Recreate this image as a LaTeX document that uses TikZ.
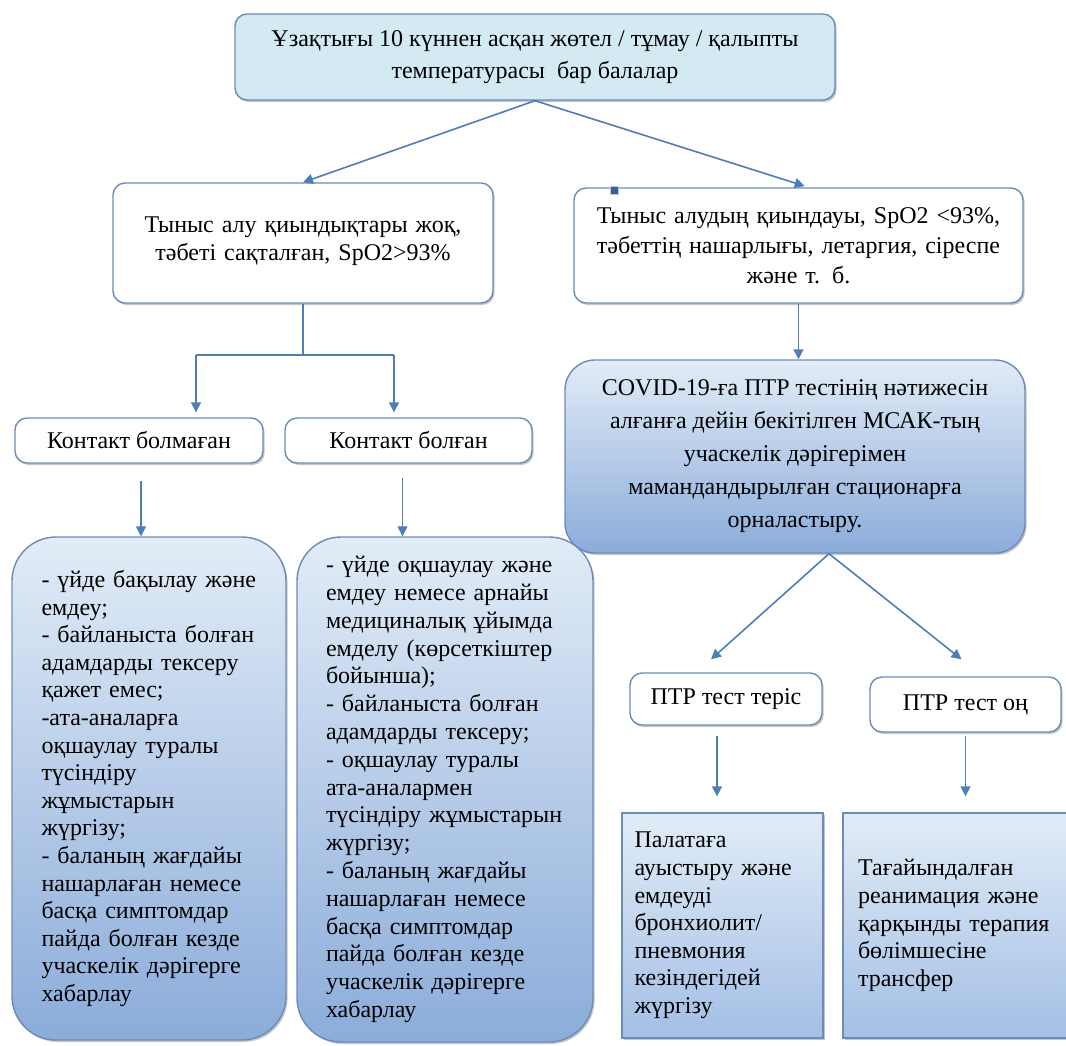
\documentclass[tikz,border=0pt]{standalone}
\usepackage{fontspec}
\setmainfont{Liberation Serif}
\usetikzlibrary{shapes,arrows.meta,shadows}
\definecolor{linecol}{HTML}{4F7DB6}
\definecolor{edgecol}{HTML}{6A8CB8}
\definecolor{topfill}{HTML}{D3EAF2}
\definecolor{gradtop}{HTML}{E2ECF7}
\definecolor{gradbot}{HTML}{8BACDA}
\definecolor{gradbotb}{HTML}{A3BFE5}
\definecolor{markcol}{HTML}{3F5F93}
\newcommand{\jl}[1]{\makebox[\linewidth][s]{#1}}
\tikzset{
	box/.style={draw=edgecol, line width=0.7pt, rounded corners=6pt, fill=white, inner sep=0pt, align=center, font=\fontsize{12}{14}\selectfont, drop shadow={shadow xshift=0.8pt, shadow yshift=-1pt, opacity=0.45}},
	bluebox/.style={box, top color=gradtop, bottom color=gradbot},
	link/.style={draw=linecol, line width=0.8pt},
	arr/.style={link, -{Triangle[length=5pt,width=5pt]}}
}
\begin{document}
\begin{tikzpicture}[x=0.5pt, y=-0.5pt]
	\clip (0,0) rectangle (1066,1045);
	\node[box, fill=topfill, minimum width=300pt, minimum height=43pt, font=\fontsize{12}{16}\selectfont] (top) at (535,57) {Ұзақтығы 10 күннен асқан жөтел / тұмау / қалыпты\\температурасы\ \ бар балалар};
	\node[box, text width=185pt, inner xsep=2.5pt, text height=24.5pt, text depth=35.5pt] (noresp) at (303,243) {Тыныс алу қиындықтары жоқ,\\тәбеті сақталған, SpO2>93\%};
	\node[box, text width=224.5pt, minimum height=57.5pt, font=\fontsize{12}{15}\selectfont] (resp) at (798.5,245.5) {Тыныс алудың қиындауы, SpO2 <93\%,\\тәбеттің нашарлығы, летаргия, сіреспе\\және т. б.};
	\filldraw[fill=markcol, draw=linecol!40, line width=0.5pt] (610,186) rectangle (618,194);
	\node[box, minimum width=124pt, minimum height=22.5pt] (nocont) at (139,440.5) {Контакт болмаған};
	\node[box, minimum width=123.5pt, minimum height=22.5pt] (cont) at (408.5,440.5) {Контакт болған};
	\node[bluebox, rounded corners=22pt, text width=107.5pt, minimum width=137pt, minimum height=251.5pt, align=left, font=\fontsize{12}{13.8}\selectfont] (home) at (149,788.5) {\jl{- үйде бақылау және}\\емдеу;\\- байланыста болған\\адамдарды тексеру\\қажет емес;\\-ата-аналарға\\\jl{оқшаулау туралы}\\түсіндіру\\жұмыстарын\\жүргізу;\\- баланың жағдайы\\нашарлаған немесе\\басқа симптомдар\\пайда болған кезде\\учаскелік дәрігерге\\хабарлау};
	\node[bluebox, rounded corners=22pt, text width=119pt, minimum width=148pt, minimum height=252.5pt, align=left, font=\fontsize{12}{13.9}\selectfont] (isol) at (445,789.5) {\jl{- үйде оқшаулау және}\\\jl{емдеу немесе арнайы}\\\jl{медициналық ұйымда}\\\jl{емделу (көрсеткіштер}\\бойынша);\\\jl{- байланыста болған}\\адамдарды тексеру;\\\jl{- оқшаулау туралы}\\ата-аналармен\\\jl{түсіндіру жұмыстарын}\\жүргізу;\\\jl{- баланың жағдайы}\\\jl{нашарлаған немесе}\\\jl{басқа симптомдар}\\\jl{пайда болған кезде}\\\jl{учаскелік дәрігерге}\\хабарлау};
	\node[bluebox, rounded corners=15pt, minimum width=230pt, minimum height=96.5pt, font=\fontsize{12}{16.5}\selectfont] (hosp) at (795,456.5) {COVID-19-ға ПТР тестінің нәтижесін\\алғанға дейін бекітілген МСАК-тың\\учаскелік дәрігерімен\\мамандандырылған стационарға\\орналастыру.};
	\node[box, minimum width=96pt, minimum height=26pt] (neg) at (726,699) {ПТР тест теріс};
	\node[box, minimum width=95.5pt, minimum height=27.5pt] (pos) at (965.5,704.5) {ПТР тест оң};
	\node[bluebox, sharp corners, bottom color=gradbotb, text width=88pt, minimum width=100.5pt, minimum height=112.5pt, align=left, font=\fontsize{12}{13.8}\selectfont] (ward) at (722.5,925.5) {Палатаға\\ауыстыру және\\емдеуді\\бронхиолит/\\пневмония\\кезіндегідей\\жүргізу};
	\node[bluebox, sharp corners, bottom color=gradbotb, text width=105pt, minimum width=120pt, minimum height=112.5pt, align=left, font=\fontsize{12}{13.8}\selectfont] (icu) at (963,925.5) {Тағайындалған\\\jl{реанимация және}\\\jl{қарқынды терапия}\\бөлімшесіне\\трансфер};
	\draw[arr] (top.south) -- (noresp.north);
	\draw[arr, shorten >=2pt] (top.south) -- ([xshift=5pt]resp.north);
	\coordinate (forkL) at (196,355);
	\coordinate (forkR) at (394,355);
	\draw[link] (noresp.south) -- (noresp.south |- forkL);
	\draw[link] (forkL) -- (forkR);
	\draw[arr, shorten >=2.5pt] (forkL) -- (forkL |- nocont.north);
	\draw[arr, shorten >=2.5pt] (forkR) -- (forkR |- cont.north);
	\draw[arr, shorten <=8.5pt] ([xshift=1pt]nocont.south) -- ([xshift=1pt]nocont.south |- home.north);
	\draw[arr, shorten <=7pt] ([xshift=-3pt]cont.south) -- ([xshift=-3pt]cont.south |- isol.north);
	\draw[arr] (resp.south) -- (resp.south |- hosp.north);
	\draw[arr] ([xshift=17pt]hosp.south) -- ([xshift=-7.5pt, yshift=6.5pt]neg.north);
	\draw[arr] ([xshift=17pt]hosp.south) -- ([xshift=-2pt, yshift=8.5pt]pos.north);
	\draw[arr, shorten <=5pt, shorten >=8pt] ([xshift=-4.5pt]neg.south) -- ([xshift=-4.5pt]neg.south |- ward.north);
	\draw[arr, shorten <=1.5pt, shorten >=8pt] (pos.south) -- (pos.south |- icu.north);
\end{tikzpicture}
\end{document}
